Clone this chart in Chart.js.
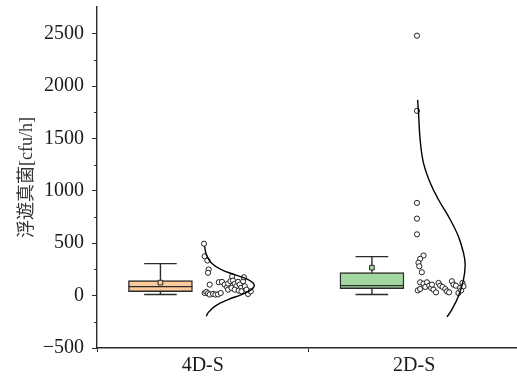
<!DOCTYPE html>
<html>
<head>
<meta charset="utf-8">
<script src="https://cdn.jsdelivr.net/npm/chart.js@4/dist/chart.umd.min.js"></script>
<style>
html,body{margin:0;padding:0;background:#fff;}
canvas{display:block;}
</style>
</head>
<body>
<canvas id="c" width="517" height="381"></canvas>
<script>
// ---- data ----
const categories = ['4D-S', '2D-S'];
const yTicks = [-500, 0, 500, 1000, 1500, 2000, 2500];
const yMinorTicks = [-250, 250, 750, 1250, 1750, 2250];
const whiskerLow = [10, 10];
const q1 = [38, 67];
const median = [86, 95];
const q3 = [143, 219];
const whiskerHigh = [305, 372];
const meanVal = [124, 267];

const points4D = [495, 376, 335, 250, 218, 105, 128, 131, 105, 80, 115, 137, 185, 143, 112, 89, 131, 105, 73, 137, 89, 57, 16, 41, 25, 35, 22, 10, 16, 10, 12, 25, 57, 73, 57, 48, 41, 175];
const jitter4D = [.006, .009, .022, .028, .025, .033, .076, .091, .104, .115, .120, .131, .139, .143, .151, .159, .167, .175, .180, .191, .199, .207, .214, .227, .009, .017, .025, .033, .049, .060, .072, .085, .120, .136, .151, .170, .183, .195];
const points2D = [2481, 1764, 885, 735, 585, 383, 351, 313, 280, 223, 127, 114, 83, 127, 95, 73, 57, 31, 50, 63, 121, 95, 83, 63, 41, 31, 137, 105, 95, 25, 73, 121, 50, 89, 105];
const jitter2D = [.013, .013, .013, .013, .013, .044, .028, .020, .024, .036, .028, .044, .052, .060, .071, .080, .091, .103, .017, .028, .115, .123, .134, .147, .155, .165, .178, .186, .197, .209, .217, .228, .222, .233, .084];

const curve4DValues = [470, 391, 312, 248, 200, 153, 105, 57, 10, -38, -102, -165, -197];
const curve4DWidth = [.009, .017, .041, .088, .151, .214, .243, .230, .183, .120, .057, .025, .017];
const curve2DValues = [1868, 1757, 1487, 1265, 1074, 915, 756, 565, 407, 296, 153, -6, -133, -203];
const curve2DWidth = [.016, .020, .028, .044, .076, .115, .162, .209, .233, .241, .233, .209, .178, .155];

// ---- layout constants ----
const BOX_SHIFT = -0.2, BOX_HALF = 0.151, CAP_HALF = 0.077;
const boxColors = ['#FBC99A', '#A3D9A0'];
const ink = '#2b2b2b';

// ---- build datasets ----
const catX = categories.map((_, i) => i + 1);
const boxData = catX.map((c, i) => ({x: c + BOX_SHIFT, y: [q1[i], q3[i]]}));
const whiskerData = [];
catX.forEach((c, i) => {
  const bx = c + BOX_SHIFT;
  whiskerData.push({x: bx, y: q3[i]}, {x: bx, y: whiskerHigh[i]}, {x: bx, y: null});
  whiskerData.push({x: bx - CAP_HALF, y: whiskerHigh[i]}, {x: bx + CAP_HALF, y: whiskerHigh[i]}, {x: bx + CAP_HALF, y: null});
  whiskerData.push({x: bx, y: q1[i]}, {x: bx, y: whiskerLow[i]}, {x: bx, y: null});
  whiskerData.push({x: bx - CAP_HALF, y: whiskerLow[i]}, {x: bx + CAP_HALF, y: whiskerLow[i]}, {x: bx + CAP_HALF, y: null});
  whiskerData.push({x: bx - BOX_HALF, y: median[i]}, {x: bx + BOX_HALF, y: median[i]}, {x: bx + BOX_HALF, y: null});
});
const meanData = catX.map((c, i) => ({x: c + BOX_SHIFT, y: meanVal[i]}));
const scatter4D = points4D.map((v, i) => ({x: catX[0] + jitter4D[i], y: v}));
const scatter2D = points2D.map((v, i) => ({x: catX[1] + jitter2D[i], y: v}));
const curve4D = curve4DValues.map((v, i) => ({x: catX[0] + curve4DWidth[i], y: v}));
const curve2D = curve2DValues.map((v, i) => ({x: catX[1] + curve2DWidth[i], y: v}));

const minorTickPlugin = {
  id: 'minorTicks',
  afterDraw(chart) {
    const ys = chart.scales.y;
    const ctx = chart.ctx;
    ctx.save();
    ctx.strokeStyle = ink;
    ctx.lineWidth = 1;
    yMinorTicks.forEach(v => {
      const py = Math.round(ys.getPixelForValue(v)) + 0.5;
      ctx.beginPath();
      ctx.moveTo(ys.right - 3, py);
      ctx.lineTo(ys.right, py);
      ctx.stroke();
    });
    ctx.restore();
  }
};

const tickFont = {family: "'Liberation Serif', 'Times New Roman', serif", size: 20};

new Chart(document.getElementById('c'), {
  type: 'scatter',
  data: {
    datasets: [
      {type: 'line', label: 'curve 4D-S', data: curve4D, borderColor: '#000', borderWidth: 1.4, pointRadius: 0, tension: 0.4, fill: false, order: 1},
      {type: 'line', label: 'curve 2D-S', data: curve2D, borderColor: '#000', borderWidth: 1.4, pointRadius: 0, tension: 0.4, fill: false, order: 1},
      {type: 'scatter', label: '4D-S points', data: scatter4D, pointRadius: 2.6, pointBackgroundColor: '#fff', pointBorderColor: '#222', pointBorderWidth: 1, order: 2},
      {type: 'scatter', label: '2D-S points', data: scatter2D, pointRadius: 2.6, pointBackgroundColor: '#fff', pointBorderColor: '#222', pointBorderWidth: 1, order: 2},
      {type: 'scatter', label: 'mean', data: meanData, pointStyle: 'rect', pointRadius: 3.3, pointBackgroundColor: boxColors, pointBorderColor: ink, pointBorderWidth: 1, order: 3},
      {type: 'line', label: 'whiskers', data: whiskerData, borderColor: ink, borderWidth: 1.4, pointRadius: 0, spanGaps: false, tension: 0, fill: false, order: 4},
      {type: 'bar', label: 'box', data: boxData, backgroundColor: boxColors, borderColor: ink, borderWidth: 1.4, borderSkipped: false, barThickness: 64, order: 5}
    ]
  },
  options: {
    responsive: false,
    animation: false,
    layout: {autoPadding: false, padding: {left: 0, right: 0, top: 7, bottom: 0}},
    plugins: {legend: {display: false}, tooltip: {enabled: false}},
    scales: {
      x: {
        type: 'linear', min: 0.5, max: 2.486, offset: false,
        afterBuildTicks: s => { s.ticks = catX.map(v => ({value: v})); },
        afterFit: s => { s.height = 33; s.paddingLeft = 0; s.paddingRight = 0; },
        ticks: {font: tickFont, color: '#1a1a1a', padding: 2, maxRotation: 0, autoSkip: false,
          callback: v => categories[Math.round(v) - 1] || ''},
        grid: {drawOnChartArea: false, drawTicks: true, tickLength: 4, tickColor: ink, tickWidth: 1},
        border: {color: ink, width: 1.4}
      },
      y: {
        type: 'linear', min: -500, max: 2755,
        afterBuildTicks: s => { s.ticks = yTicks.map(v => ({value: v})); },
        afterFit: s => { s.width = 97; s.paddingTop = 0; s.paddingBottom = 0; },
        ticks: {font: tickFont, color: '#1a1a1a', padding: 8,
          callback: v => (v < 0 ? '\u2212' + Math.abs(v) : String(v))},
        grid: {drawOnChartArea: false, drawTicks: true, tickLength: 5, tickColor: ink, tickWidth: 1},
        border: {color: ink, width: 1.4},
        title: {display: true, text: '浮遊真菌[cfu/h]', color: '#333',
          font: {family: "'Liberation Serif', 'Noto Sans CJK JP', serif", size: 18},
          padding: {top: 16, bottom: 0}}
      }
    }
  },
  plugins: [minorTickPlugin]
});
</script>
</body>
</html>
